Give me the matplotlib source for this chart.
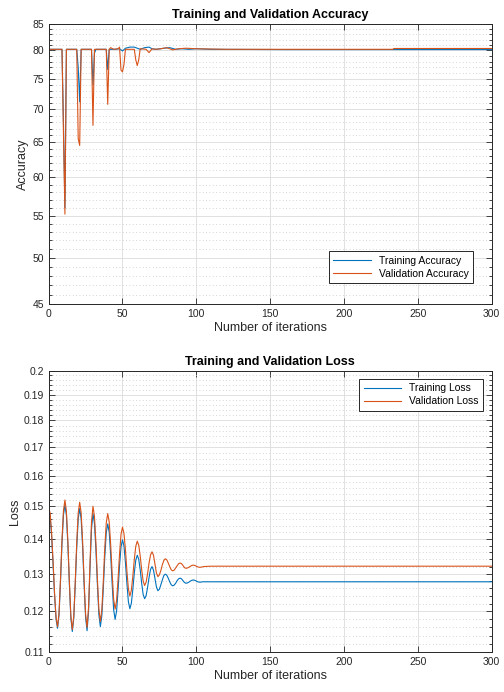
import matplotlib
matplotlib.use("Agg")
import matplotlib.pyplot as plt
from matplotlib.ticker import FixedLocator, NullFormatter, FormatStrFormatter

plt.rcParams['font.family'] = ['Liberation Sans', 'DejaVu Sans']

# accuracy curves (iteration, value)
train_acc_iter = [0, 9, 10, 11, 12, 19, 20, 21, 22, 29, 30, 31, 32, 39, 40, 41, 45, 48, 50, 52,
                  55, 58, 62, 65, 68, 70, 73, 78, 82, 86, 90, 95, 100, 110, 160, 300]
train_acc = [80.2, 80.2, 68, 56, 80.2, 80.2, 77, 71.2, 80.2, 80.2, 74.0, 79.5, 80.2, 80.2, 76.6, 80.2,
             80.2, 80.3, 79.9, 80.4, 80.6, 80.6, 80.2, 80.5, 80.6, 80.3, 80.2, 80.4, 80.5, 80.2,
             80.3, 80.2, 80.3, 80.2, 80.15, 80.15]

val_acc_iter = [0, 9, 11, 12, 19, 20, 21, 22, 29, 30, 31, 39, 40, 41, 42, 44, 47, 48, 49, 50, 51, 52,
                55, 58, 59, 60, 61, 62, 66, 68, 70, 72, 76, 80, 84, 88, 93, 100, 120, 233, 234, 300]
val_acc = [80.2, 80.2, 55.2, 80.2, 80.2, 65.5, 64.5, 80.2, 80.2, 67.5, 80.2, 80.2, 70.8, 80.2,
           80.5, 80.2, 80.3, 80.6, 76.5, 76.2, 77.5, 80.2, 80.2, 80.2, 78.3, 77.3, 78.3, 80.3,
           80.2, 79.6, 80.3, 80.2, 80.3, 80.5, 80.1, 80.3, 80.4, 80.3, 80.2, 80.2, 80.35, 80.35]

# loss curves, one value per iteration 0..105, then flat
loss_iter = list(range(106)) + [110, 300]
train_loss = [0.1490, 0.1468, 0.1407, 0.1324, 0.1241, 0.1180, 0.1158, 0.1191, 0.1278, 0.1385,
              0.1472, 0.1505, 0.1471, 0.1382, 0.1273, 0.1184, 0.1150, 0.1183, 0.1269, 0.1375,
              0.1460, 0.1493, 0.1460, 0.1375, 0.1270, 0.1185, 0.1152, 0.1200, 0.1315, 0.1429,
              0.1477, 0.1447, 0.1368, 0.1271, 0.1192, 0.1162, 0.1189, 0.1260, 0.1347, 0.1418,
              0.1445, 0.1420, 0.1353, 0.1272, 0.1205, 0.1180, 0.1201, 0.1255, 0.1322, 0.1376,
              0.1397, 0.1379, 0.1331, 0.1273, 0.1225, 0.1207, 0.1221, 0.1257, 0.1302, 0.1338,
              0.1352, 0.1341, 0.1311, 0.1274, 0.1244, 0.1233, 0.1241, 0.1263, 0.1290, 0.1312,
              0.1320, 0.1310, 0.1287, 0.1264, 0.1254, 0.1258, 0.1270, 0.1283, 0.1295, 0.1299,
              0.1296, 0.1288, 0.1278, 0.1270, 0.1267, 0.1269, 0.1274, 0.1281, 0.1286, 0.1288,
              0.1286, 0.1281, 0.1276, 0.1274, 0.1275, 0.1277, 0.1280, 0.1282, 0.1283, 0.1282,
              0.1280, 0.1278, 0.1277, 0.1277, 0.1278, 0.1278, 0.1278, 0.1278]
val_loss = [0.1500, 0.1477, 0.1416, 0.1331, 0.1246, 0.1185, 0.1162, 0.1196, 0.1286, 0.1396,
            0.1486, 0.1520, 0.1485, 0.1394, 0.1281, 0.1190, 0.1155, 0.1189, 0.1279, 0.1389,
            0.1479, 0.1513, 0.1479, 0.1391, 0.1282, 0.1194, 0.1160, 0.1210, 0.1330, 0.1450,
            0.1500, 0.1469, 0.1388, 0.1287, 0.1206, 0.1175, 0.1204, 0.1279, 0.1373, 0.1448,
            0.1477, 0.1451, 0.1383, 0.1300, 0.1232, 0.1206, 0.1228, 0.1285, 0.1356, 0.1413,
            0.1435, 0.1416, 0.1368, 0.1307, 0.1259, 0.1240, 0.1255, 0.1293, 0.1340, 0.1378,
            0.1393, 0.1381, 0.1350, 0.1311, 0.1280, 0.1268, 0.1277, 0.1300, 0.1330, 0.1353,
            0.1362, 0.1352, 0.1327, 0.1302, 0.1292, 0.1297, 0.1309, 0.1325, 0.1337, 0.1342,
            0.1339, 0.1330, 0.1320, 0.1311, 0.1308, 0.1310, 0.1316, 0.1322, 0.1328, 0.1330,
            0.1328, 0.1323, 0.1317, 0.1315, 0.1316, 0.1318, 0.1321, 0.1323, 0.1324, 0.1323,
            0.1321, 0.1319, 0.1318, 0.1318, 0.1319, 0.1320, 0.1321, 0.1321]

acc_ticks = [45, 50, 55, 60, 65, 70, 75, 80, 85]
acc_minor = [v for v in range(46, 85) if v % 5 != 0]
loss_ticks = [0.11, 0.12, 0.13, 0.14, 0.15, 0.16, 0.17, 0.18, 0.19, 0.2]
loss_minor = [round(0.11 + 0.002 * k, 3) for k in range(46) if k % 5 != 0]
x_ticks = [0, 50, 100, 150, 200, 250, 300]

blue = '#0072BD'
orange = '#D95319'
dark = '#262626'

fig = plt.figure(figsize=(5.04, 6.92), dpi=100)
ax1 = fig.add_axes([0.0966, 0.5603, 0.8786, 0.4055])
ax2 = fig.add_axes([0.0966, 0.0571, 0.8786, 0.4072])


def style(ax, yt, ym, ylim, fmt):
    ax.set_yscale('log')
    ax.set_xlim(0, 300)
    ax.set_ylim(*ylim)
    ax.xaxis.set_major_locator(FixedLocator(x_ticks))
    ax.yaxis.set_major_locator(FixedLocator(yt))
    ax.yaxis.set_minor_locator(FixedLocator(ym))
    ax.yaxis.set_major_formatter(FormatStrFormatter(fmt))
    ax.yaxis.set_minor_formatter(NullFormatter())
    ax.xaxis.set_minor_locator(FixedLocator([]))
    ax.grid(True, which='major', color='#dcdcdc', linewidth=0.6)
    ax.grid(True, which='minor', axis='y', color='#c8c8c8', linewidth=0.6, linestyle=(0, (1, 3)))
    ax.set_axisbelow(True)
    ax.tick_params(which='both', direction='in', top=True, right=True, labelsize=7.5,
                   colors=dark, width=0.6)
    ax.tick_params(which='major', length=4)
    ax.tick_params(which='minor', length=2)
    for s in ax.spines.values():
        s.set_color(dark)
        s.set_linewidth(0.7)
    ax.set_xlabel('Number of iterations', fontsize=9, color=dark, labelpad=2)


style(ax1, acc_ticks, acc_minor, (45, 85), '%g')
ax1.plot(train_acc_iter, train_acc, color=blue, lw=0.8, label='Training Accuracy')
ax1.plot(val_acc_iter, val_acc, color=orange, lw=0.8, label='Validation Accuracy')
ax1.set_ylabel('Accuracy', fontsize=9, color=dark, labelpad=2)
ax1.set_title('Training and Validation Accuracy', fontsize=9, fontweight='bold', pad=4)
leg1 = ax1.legend(loc='lower right', bbox_to_anchor=(0.958, 0.076), borderaxespad=0,
                  fontsize=7.5, fancybox=False, edgecolor=dark, framealpha=1,
                  handlelength=3.6, borderpad=0.4, labelspacing=0.3)
leg1.get_frame().set_linewidth(0.7)

style(ax2, loss_ticks, loss_minor, (0.11, 0.2), '%g')
ax2.plot(loss_iter, train_loss, color=blue, lw=0.8, label='Training Loss')
ax2.plot(loss_iter, val_loss, color=orange, lw=0.8, label='Validation Loss')
ax2.set_ylabel('Loss', fontsize=9, color=dark, labelpad=2)
ax2.set_title('Training and Validation Loss', fontsize=9, fontweight='bold', pad=4)
leg2 = ax2.legend(loc='upper right', bbox_to_anchor=(0.981, 0.970), borderaxespad=0,
                  fontsize=7.5, fancybox=False, edgecolor=dark, framealpha=1,
                  handlelength=3.6, borderpad=0.4, labelspacing=0.3)
leg2.get_frame().set_linewidth(0.7)

plt.savefig('out.png', dpi=100)
